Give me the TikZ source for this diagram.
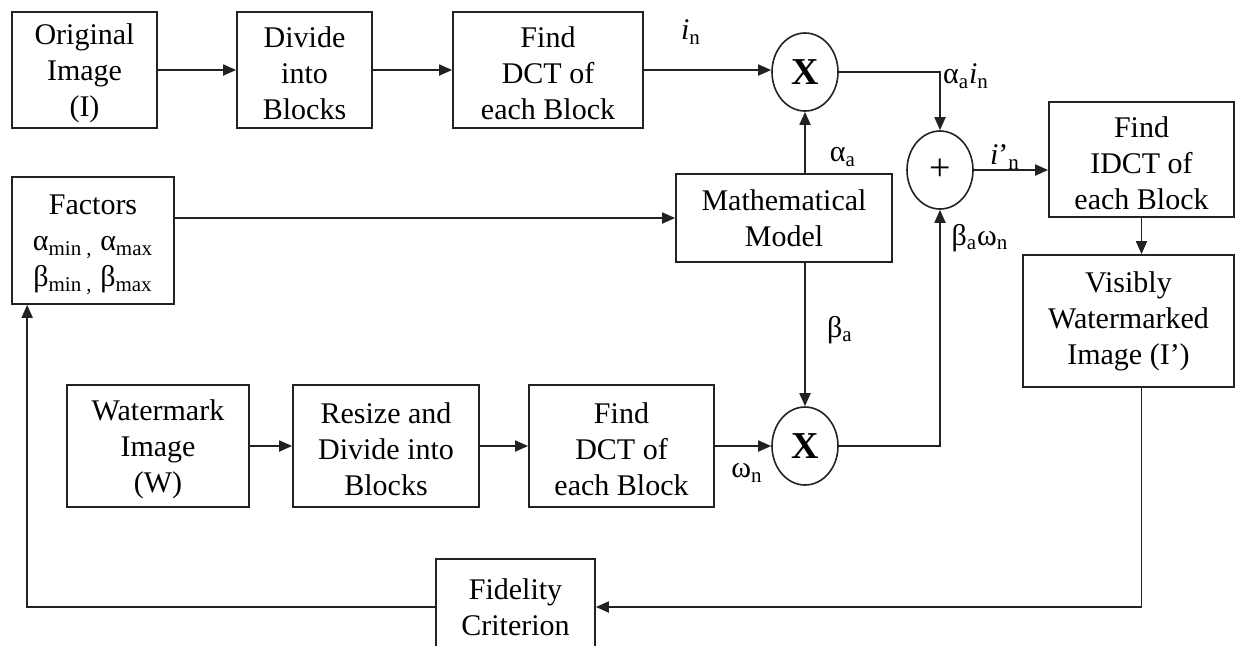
\documentclass[tikz,border=0pt]{standalone}
\usepackage{fontspec}
\setmainfont{Liberation Serif}
\usetikzlibrary{arrows.meta,positioning,calc,shapes.geometric}
\definecolor{Ink}{HTML}{222222}
\newcommand{\topgap}{\rule{0pt}{14pt}}
\tikzset{box/.style={draw=Ink,line width=.85pt,align=center,inner sep=0pt,font=\fontsize{15}{18}\selectfont},flow/.style={-{Triangle[length=6.5pt,width=5.5pt]},line width=.9pt,draw=Ink},op/.style={ellipse,draw=Ink,line width=.8pt,minimum width=33pt,minimum height=39pt,inner sep=0pt,font=\fontsize{19}{22}\selectfont},lab/.style={font=\fontsize{15}{18}\selectfont,inner sep=0pt}}

\begin{document}
\begin{tikzpicture}[x=.5pt,y=-.5pt]
\clip (0,0) rectangle (1236,645);
% image path
\node[box,minimum width=72.5pt,minimum height=58pt] (orig) at (84.5,70) {\topgap Original\\Image\\(I)};
\node[box,minimum width=67.5pt,minimum height=58pt] (div) at (304.5,70) {\topgap Divide\\into\\Blocks};
\node[box,minimum width=95pt,minimum height=58pt] (dcta) at (548,70) {\topgap Find\\DCT of\\each Block};
\node[op] (mula) at (805,72) {\textbf{X}};
\node[op] (add) at (940,170) {+};
\node[box,minimum width=92.5pt,minimum height=57.5pt] (idct) at (1141.5,159.5) {\topgap Find\\IDCT of\\each Block};
\node[box,minimum width=105.5pt,minimum height=66pt] (vis) at (1128.5,321) {Visibly\\Watermarked\\Image (I’)};
% factors and model
\node[box,minimum width=81pt,minimum height=63.5pt] (fac) at (93,240.5) {\topgap Factors\\α\textsubscript{min ,} α\textsubscript{max}\\β\textsubscript{min ,} β\textsubscript{max}};
\node[box,minimum width=108pt,minimum height=44pt] (math) at (784,218) {Mathematical\\Model};
% watermark path
\node[box,minimum width=91pt,minimum height=61pt] (wm) at (158,446) {\topgap Watermark\\Image\\(W)};
\node[box,minimum width=93pt,minimum height=61pt] (res) at (386,446) {\topgap Resize and\\Divide into\\Blocks};
\node[box,minimum width=92.5pt,minimum height=61pt] (dctb) at (621.5,446) {\topgap Find\\DCT of\\each Block};
\node[op] (mulb) at (805,446) {\textbf{X}};
\node[box,minimum width=79.5pt,minimum height=48pt] (fid) at (515.5,607) {Fidelity\\Criterion};
% labels
\node[lab] (lin) at (691,32) {\textit{i}\textsubscript{n}};
\node[lab] (lalin) at (966,76) {α\textsubscript{a}\textit{i}\textsubscript{n}};
\node[lab] (lala) at (843,157) {α\textsubscript{a}};
\node[lab] (lipn) at (1005,157) {\textit{i}’\textsubscript{n}};
\node[lab] (lbawn) at (980,238) {β\textsubscript{a}ω\textsubscript{n}};
\node[lab] (lba) at (840,330) {β\textsubscript{a}};
\node[lab] (lwn) at (747,473) {ω\textsubscript{n}};
% connectors
\draw[flow] (orig) -- (div);
\draw[flow] (div) -- (dcta);
\draw[flow] (dcta.east) -- (dcta.east -| mula.west);
\draw[flow] (mula.east) -| (add.north);
\draw[flow] (math.north -| mula) -- (mula.south);
\draw[flow] (math.south -| mulb) -- (mulb.north);
\draw[flow] (fac.east |- math.west) -- (math.west);
\draw[flow] (wm) -- (res);
\draw[flow] (res) -- (dctb);
\draw[flow] (dctb) -- (mulb);
\draw[flow] (mulb.east) -| (add.south);
\draw[flow] (add.east) -- (add.east -| idct.west);
\draw[flow] (idct) -- (idct |- vis.north);
\draw[flow] (vis.south -| idct) |- (fid.east);
\draw[flow] (fid.west) -| ([xshift=8pt]fac.south west);
\end{tikzpicture}
\end{document}
